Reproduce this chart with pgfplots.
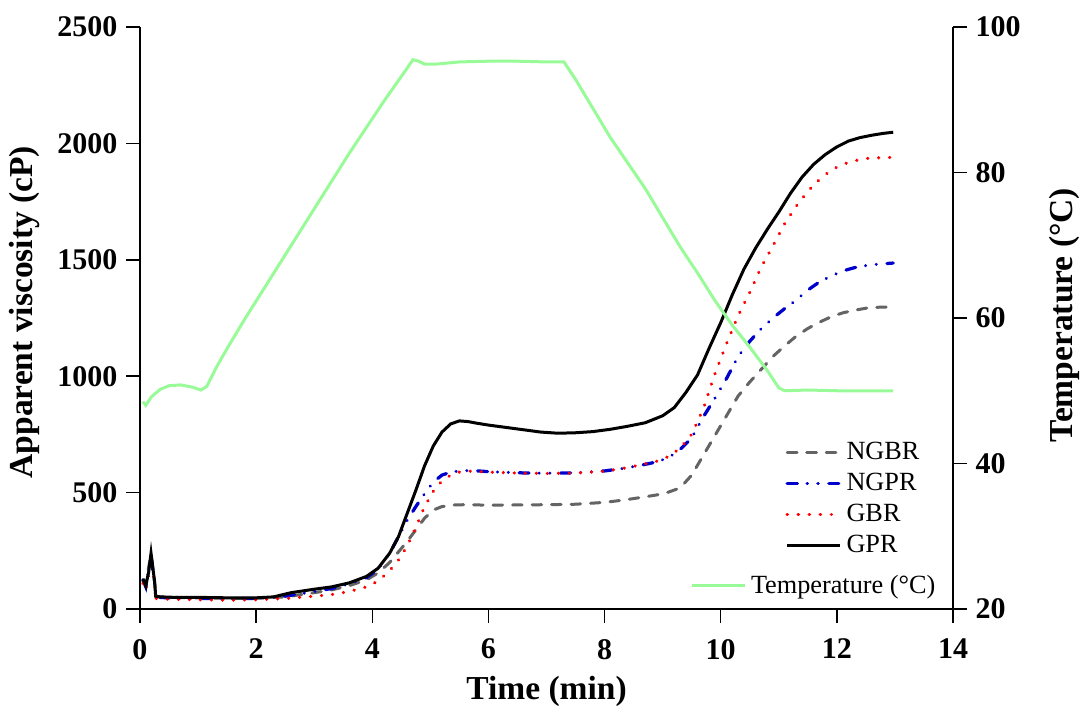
\documentclass[border=0pt]{standalone}
\usepackage{fontspec}
\setmainfont{Liberation Serif}
\usepackage{pgfplots}
\pgfplotsset{compat=1.18}

\definecolor{ngbrgray}{RGB}{100,100,100}
\definecolor{ngprblue}{RGB}{0,0,205}
\definecolor{gbrred}{RGB}{255,0,0}
\definecolor{tempgreen}{RGB}{152,251,152}

\pgfplotsset{
  rvabase/.style={
    scale only axis,
    width=325.2pt, height=232.8pt,
    xmin=0, xmax=14,
    tick align=outside,
    major tick length=5.5pt,
    axis line style={-, line width=0.6pt},
    tick style={line width=0.6pt, black},
    tick label style={font=\fontsize{12}{14}\selectfont\bfseries},
    xticklabel style={yshift=-3pt},
    /pgf/number format/assume math mode=true,
    /pgf/number format/1000 sep={},
    scaled ticks=false,
    label style={font=\fontsize{13.4}{15}\selectfont\bfseries},
    legend style={draw=none, fill=none, inner sep=0pt, row sep=0pt,
      font=\fontsize{10.5}{12}\selectfont},
    legend cell align=left,
    legend image code/.code={
      \draw[#1] (0pt,0pt) -- (16pt,0pt);
      \path (0pt,0pt) -- (21pt,0pt);},
  },
}

\begin{document}
\begin{tikzpicture}
\path[use as bounding box] (-56pt,-38.8pt) rectangle (376.4pt,243.6pt);

\begin{axis}[
  rvabase,
  axis x line*=bottom,
  axis y line*=left,
  ymin=0, ymax=2500,
  xtick={0,2,...,14},
  ytick={0,500,...,2500},
  xlabel={Time (min)},
  ylabel={Apparent viscosity (cP)},
  xlabel style={at={(axis description cs:0.5,0)}, anchor=north, yshift=-23.5pt},
  ylabel style={at={(axis description cs:-0.1415,0.51)}, anchor=center},
  legend style={at={(0.7934,0.297)}, anchor=north west},
]
% NGBR
\addplot[ngbrgray, line width=1.2pt, line cap=round,
  dash pattern=on 3.8pt off 4pt] coordinates {
(0.05,120) (0.10,105) (0.15,180) (0.19,235) (0.22,175) (0.25,120) (0.28,52)
(0.5,50) (1.0,48) (1.5,46) (2.0,46) (2.5,52) (3.0,70) (3.3,82) (3.6,100)
(3.9,125) (4.1,155) (4.3,200) (4.45,245) (4.6,290) (4.75,340) (4.9,390)
(5.05,425) (5.2,440) (5.4,447) (5.6,448) (6.0,446) (6.5,447) (7.0,448)
(7.5,450) (8.0,458) (8.3,467) (8.6,478) (8.9,490) (9.1,502) (9.3,520)
(9.5,575) (9.7,660) (9.9,745) (10.1,830) (10.3,915) (10.5,975) (10.7,1030)
(10.9,1085) (11.1,1130) (11.3,1172) (11.5,1205) (11.7,1232) (11.9,1255)
(12.1,1272) (12.3,1283) (12.5,1292) (12.7,1296) (12.97,1298)};
% NGPR
\addplot[ngprblue, line width=1.3pt, line cap=round,
  dash pattern=on 4pt off 4pt on 0.01pt off 4.3pt on 0.01pt off 4.3pt] coordinates {
(0.05,125) (0.10,95) (0.15,170) (0.19,225) (0.22,170) (0.25,115) (0.28,50)
(0.5,48) (1.0,45) (1.5,44) (2.0,45) (2.5,55) (3.0,75) (3.3,88) (3.6,108)
(3.9,135) (4.1,170) (4.3,240) (4.45,310) (4.6,380) (4.75,440) (4.9,495)
(5.05,545) (5.2,575) (5.35,588) (5.5,593) (5.7,595) (6.0,590) (6.5,585)
(7.0,583) (7.5,585) (8.0,593) (8.3,603) (8.6,616) (8.9,632) (9.1,650)
(9.3,685) (9.5,735) (9.7,825) (9.9,905) (10.1,990) (10.3,1085) (10.5,1150)
(10.7,1205) (10.9,1250) (11.1,1290) (11.3,1327) (11.5,1370) (11.7,1405)
(11.9,1430) (12.1,1452) (12.3,1466) (12.5,1475) (12.7,1481) (12.97,1486)};
% GBR
\addplot[gbrred, line width=1.4pt, line cap=round,
  dash pattern=on 0.01pt off 4.4pt] coordinates {
(0.05,110) (0.10,80) (0.15,150) (0.19,210) (0.22,170) (0.25,110) (0.28,45)
(0.5,42) (1.0,40) (1.5,38) (2.0,40) (2.5,45) (3.0,55) (3.3,62) (3.6,75)
(3.9,95) (4.1,120) (4.3,165) (4.45,210) (4.6,270) (4.75,350) (4.9,440)
(5.05,505) (5.2,550) (5.35,575) (5.5,588) (5.7,592) (6.0,588) (6.5,584)
(7.0,582) (7.5,584) (8.0,592) (8.3,603) (8.6,618) (8.9,635) (9.1,655)
(9.3,690) (9.5,750) (9.7,860) (9.9,1010) (10.1,1140) (10.3,1260)
(10.5,1360) (10.7,1470) (10.9,1560) (11.1,1655) (11.3,1730) (11.5,1795)
(11.7,1845) (11.9,1885) (12.1,1910) (12.3,1925) (12.5,1935) (12.7,1938)
(12.97,1940)};
% GPR
\addplot[black, line width=1.2pt, solid] coordinates {
(0.05,130) (0.10,100) (0.15,160) (0.19,240) (0.22,180) (0.25,120) (0.27,55)
(0.35,52) (0.6,50) (1.0,50) (1.5,48) (2.0,48) (2.3,52) (2.6,70) (3.0,85)
(3.3,95) (3.6,112) (3.9,140) (4.1,175) (4.3,240) (4.45,310) (4.6,410)
(4.75,510) (4.9,615) (5.05,700) (5.2,760) (5.35,795) (5.5,808) (5.65,805)
(5.8,798) (6.0,790) (6.3,780) (6.6,770) (6.9,760) (7.2,755) (7.5,757)
(7.8,762) (8.1,772) (8.4,785) (8.7,800) (9.0,830) (9.2,865) (9.4,930)
(9.6,1005) (9.8,1120) (10.0,1230) (10.2,1350) (10.4,1460) (10.6,1550)
(10.8,1630) (11.0,1705) (11.2,1785) (11.4,1855) (11.6,1910) (11.8,1952)
(12.0,1985) (12.2,2010) (12.4,2025) (12.6,2035) (12.8,2043) (12.97,2048)};
\legend{NGBR, NGPR, GBR, GPR}
\end{axis}

\begin{axis}[
  rvabase,
  axis x line=none,
  axis y line*=right,
  ymin=20, ymax=100,
  ytick={20,40,...,100},
  ylabel={Temperature (°C)},
  ylabel style={at={(axis description cs:1.1365,0.505)}, anchor=center, rotate=0},
  legend style={at={(0.6765,0.068)}, anchor=north west},
]
\addplot[tempgreen, line width=1.2pt] coordinates {
(0.05,48.5) (0.1,48.0) (0.2,49.2) (0.35,50.2) (0.5,50.7) (0.7,50.8)
(0.9,50.5) (1.05,50.1) (1.15,50.6) (1.3,53.0) (1.5,55.8) (1.8,59.8)
(2.1,63.6) (2.4,67.4) (2.7,71.2) (3.0,75.0) (3.3,78.8) (3.6,82.6)
(3.9,86.2) (4.2,89.8) (4.5,93.2) (4.7,95.5) (4.8,95.3) (4.9,94.9)
(5.1,94.9) (5.5,95.2) (6.0,95.3) (6.5,95.3) (7.0,95.2) (7.3,95.2)
(7.5,92.8) (7.8,88.8) (8.1,84.8) (8.4,81.3) (8.7,77.8) (9.0,73.8)
(9.3,69.8) (9.6,66.2) (9.9,62.4) (10.2,59.0) (10.5,56.0) (10.8,52.8)
(11.0,50.4) (11.1,50.0) (11.5,50.1) (12.0,50.0) (12.5,50.0) (12.97,50.0)};
\legend{Temperature (°C)}
\end{axis}
\end{tikzpicture}
\end{document}
